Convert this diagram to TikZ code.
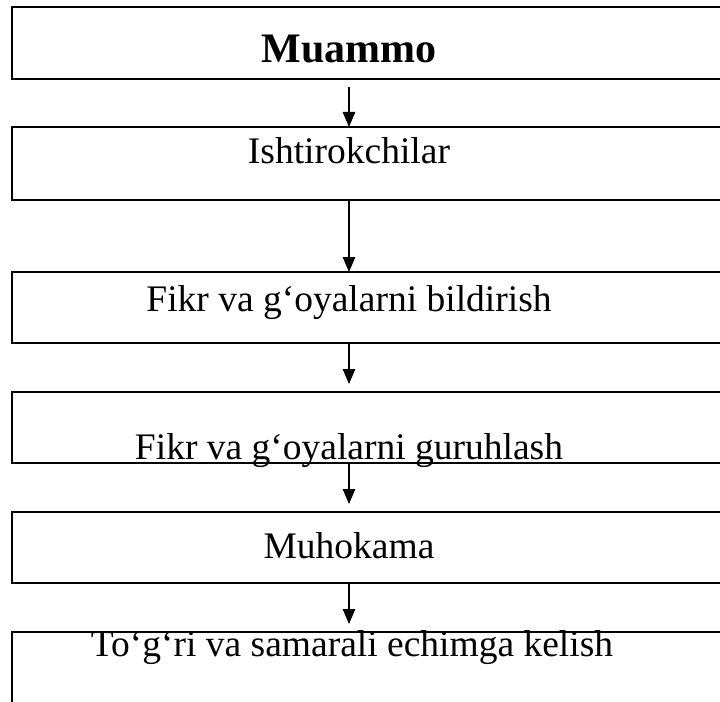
\documentclass[tikz,border=0pt]{standalone}
\usepackage{fontspec}
\setmainfont{Liberation Serif}
\usetikzlibrary{arrows.meta}

\begin{document}
\begin{tikzpicture}[x=1bp,y=-1bp,
    stepbox/.style={draw,black,line width=1.6bp,rectangle,inner sep=0pt,outer sep=0pt,
        minimum width=760bp,anchor=north west},
    steptext/.style={black,inner sep=0pt,anchor=base,font=\fontsize{37.5bp}{40bp}\selectfont},
    arr/.style={line width=1.2bp,black,-{Triangle[length=15bp,width=12.5bp]}}]
  \useasboundingbox (0,0) rectangle (720,702);
  \clip (0,0) rectangle (720,702);
  \coordinate (ax) at (349,0);
  % boxes
  \node[stepbox,minimum height=72bp] (b1) at (12,7) {};
  \node[stepbox,minimum height=73bp] (b2) at (12,127) {};
  \node[stepbox,minimum height=71bp] (b3) at (12,272) {};
  \node[stepbox,minimum height=71bp] (b4) at (12,392) {};
  \node[stepbox,minimum height=71bp] (b5) at (12,512) {};
  \node[stepbox,minimum height=120bp] (b6) at (12,632) {};
  % texts
  \node[steptext,font=\fontsize{42bp}{44bp}\selectfont\bfseries] (t1) at (349,63) {Muammo};
  \node[steptext] (t2) at (349,163) {Ishtirokchilar};
  \node[steptext] (t3) at (349,311) {Fikr va g‘oyalarni bildirish};
  \node[steptext] (t4) at (349,459) {Fikr va g‘oyalarni guruhlash};
  \node[steptext] (t5) at (349,558) {Muhokama};
  \node[steptext] (t6) at (352,656) {To‘g‘ri va samarali echimga kelish};
  % arrows
  \draw[arr,shorten <=8bp] (b1.south -| ax)--(b2.north -| ax);
  \draw[arr] (b2.south -| ax)--(b3.north -| ax);
  \draw[arr,shorten >=8bp] (b3.south -| ax)--(b4.north -| ax);
  \draw[arr,shorten >=8bp] (b4.south -| ax)--(b5.north -| ax);
  \draw[arr,shorten >=8bp] (b5.south -| ax)--(b6.north -| ax);
\end{tikzpicture}
\end{document}
